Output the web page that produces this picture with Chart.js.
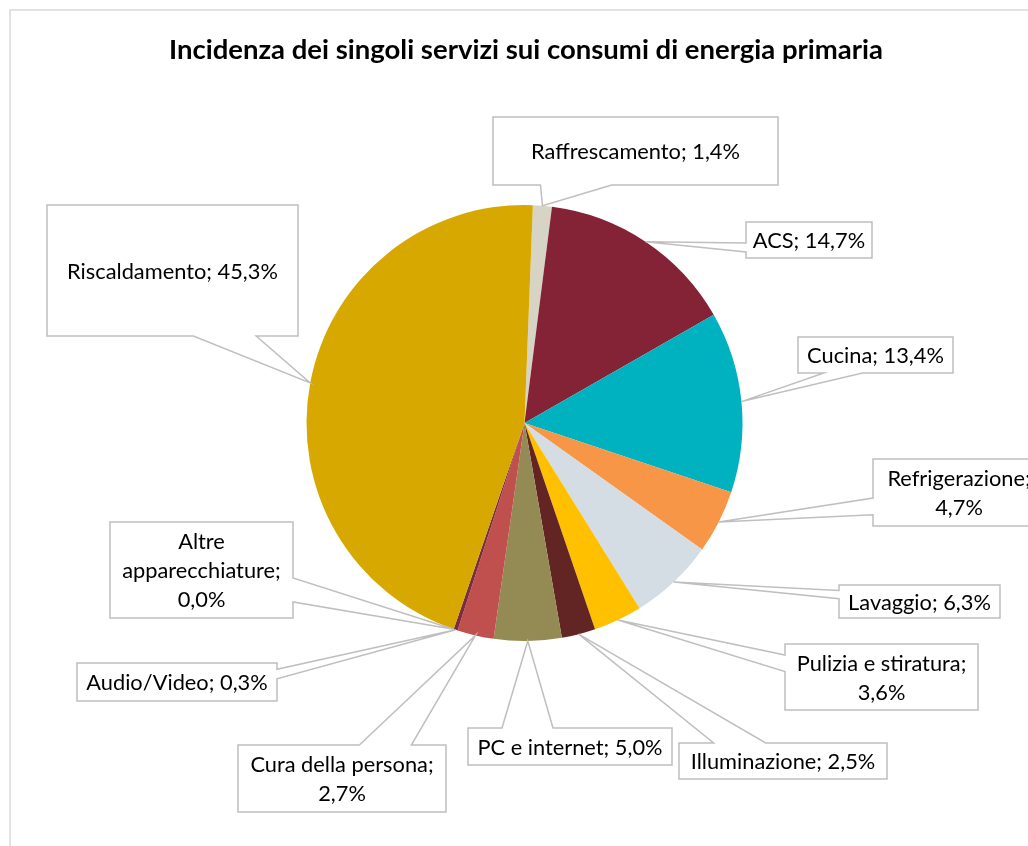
<!DOCTYPE html>
<html>
<head>
<meta charset="utf-8">
<script src="https://cdn.jsdelivr.net/npm/chart.js"></script>
<style>
  html, body { margin: 0; padding: 0; background: #fff; }
  #wrap { width: 1028px; height: 846px; }
</style>
</head>
<body>
<div id="wrap"><canvas id="myChart" width="1028" height="846"></canvas></div>
<script>
"use strict"

// Chart data (clockwise from the top)
const categories = [
    "Raffrescamento", "ACS", "Cucina", "Refrigerazione", "Lavaggio",
    "Pulizia e stiratura", "Illuminazione", "PC e internet",
    "Cura della persona", "Audio/Video", "Altre apparecchiature", "Riscaldamento"
];
const shares = [1.4, 14.7, 13.4, 4.7, 6.3, 3.6, 2.5, 5.0, 2.7, 0.3, 0.0, 45.3];
const sliceColors = [
    "#D8D4C5", "#842336", "#00B1BF", "#F79646", "#D3DDE3",
    "#FFC000", "#632523", "#948A54", "#C0504D", "#7B2C3F", "#7F7F7F", "#D6A800"
];

// Callout boxes [x, y, w, h], same order as categories
const calloutBoxes = [
    [493, 117, 285, 68],
    [746, 222, 126, 36],
    [798, 337, 155, 36],
    [873, 459, 172, 67],
    [839, 585, 161, 33],
    [785, 644, 193, 66],
    [679, 743, 208, 36],
    [468, 728, 204, 37],
    [238, 745, 208, 67],
    [77, 663, 200, 38],
    [110, 522, 183, 96],
    [47, 205, 251, 131]
];

const TITLE = "Incidenza dei singoli servizi sui consumi di energia primaria";
const FONT = "Lato, 'Open Sans', sans-serif";

function formatLabel(i) {
    return categories[i] + "; " + shares[i].toFixed(1).replace(".", ",") + "%";
}

function wrapText(ctx, text, maxWidth) {
    let words = text.split(" ");
    let lines = [];
    let line = "";
    for (let i = 0; i < words.length; i++) {
        let test = line ? line + " " + words[i] : words[i];
        if (line && ctx.measureText(test).width > maxWidth) {
            lines.push(line);
            line = words[i];
        } else {
            line = test;
        }
    }
    if (line) lines.push(line);
    return lines;
}

// Rectangle with a wedge pointing at (tx, ty)
function calloutPath(ctx, x, y, w, h, tx, ty) {
    let cx = x + w / 2, cy = y + h / 2;
    let dx = tx - cx, dy = ty - cy;
    let horiz = Math.abs(dx) * h > Math.abs(dy) * w;
    let fx = dx > 0 ? [7 / 12, 10 / 12] : [2 / 12, 5 / 12];
    let fy = dy > 0 ? [7 / 12, 10 / 12] : [2 / 12, 5 / 12];

    ctx.beginPath();
    ctx.moveTo(x, y);
    if (!horiz && dy < 0) {
        ctx.lineTo(x + w * fx[0], y);
        ctx.lineTo(tx, ty);
        ctx.lineTo(x + w * fx[1], y);
    }
    ctx.lineTo(x + w, y);
    if (horiz && dx > 0) {
        ctx.lineTo(x + w, y + h * fy[0]);
        ctx.lineTo(tx, ty);
        ctx.lineTo(x + w, y + h * fy[1]);
    }
    ctx.lineTo(x + w, y + h);
    if (!horiz && dy > 0) {
        ctx.lineTo(x + w * fx[1], y + h);
        ctx.lineTo(tx, ty);
        ctx.lineTo(x + w * fx[0], y + h);
    }
    ctx.lineTo(x, y + h);
    if (horiz && dx < 0) {
        ctx.lineTo(x, y + h * fy[1]);
        ctx.lineTo(tx, ty);
        ctx.lineTo(x, y + h * fy[0]);
    }
    ctx.closePath();
}

const frameAndTitle = {
    id: "frameAndTitle",
    beforeDraw(chart) {
        const { ctx } = chart;
        ctx.save();
        ctx.fillStyle = "#fff";
        ctx.fillRect(0, 0, chart.width, chart.height);
        ctx.strokeStyle = "#D9D9D9";
        ctx.lineWidth = 1.5;
        ctx.beginPath();
        ctx.moveTo(10, chart.height + 5);
        ctx.lineTo(10, 10);
        ctx.lineTo(chart.width + 5, 10);
        ctx.stroke();

        ctx.fillStyle = "#000";
        ctx.font = "bold 27.5px " + FONT;
        ctx.textAlign = "center";
        ctx.textBaseline = "middle";
        ctx.fillText(TITLE, 526, 50);
        ctx.restore();
    }
};

const callouts = {
    id: "callouts",
    afterDatasetsDraw(chart) {
        const { ctx } = chart;
        const arcs = chart.getDatasetMeta(0).data;
        ctx.save();
        ctx.font = "21.8px " + FONT;
        ctx.textAlign = "center";
        ctx.textBaseline = "middle";
        for (let i = 0; i < arcs.length; i++) {
            let arc = arcs[i];
            let mid = (arc.startAngle + arc.endAngle) / 2;
            let tx = arc.x + Math.cos(mid) * arc.outerRadius;
            let ty = arc.y + Math.sin(mid) * arc.outerRadius;
            let [bx, by, bw, bh] = calloutBoxes[i];

            calloutPath(ctx, bx, by, bw, bh, tx, ty);
            ctx.fillStyle = "#fff";
            ctx.fill();
            ctx.strokeStyle = "#BFBFBF";
            ctx.lineWidth = 1.5;
            ctx.stroke();

            let lines = wrapText(ctx, formatLabel(i), bw - 6);
            let lineH = 29;
            let top = by + bh / 2 - (lines.length - 1) * lineH / 2;
            ctx.fillStyle = "#000";
            for (let k = 0; k < lines.length; k++) {
                ctx.fillText(lines[k], bx + bw / 2, top + k * lineH + 1);
            }
        }
        ctx.restore();
    }
};

(function CreatePieChart() {
    const ctx = document.getElementById("myChart");

    new Chart(ctx, {
        type: "pie",
        data: {
            labels: categories,
            datasets: [{
                data: shares,
                backgroundColor: sliceColors,
                borderWidth: 0
            }]
        },
        options: {
            responsive: false,
            animation: false,
            rotation: 2.2,
            layout: {
                padding: { left: 306.5, right: 285.5, top: 205, bottom: 205 }
            },
            plugins: {
                legend: { display: false },
                tooltip: { enabled: false }
            }
        },
        plugins: [frameAndTitle, callouts]
    });
}())
</script>
</body>
</html>
